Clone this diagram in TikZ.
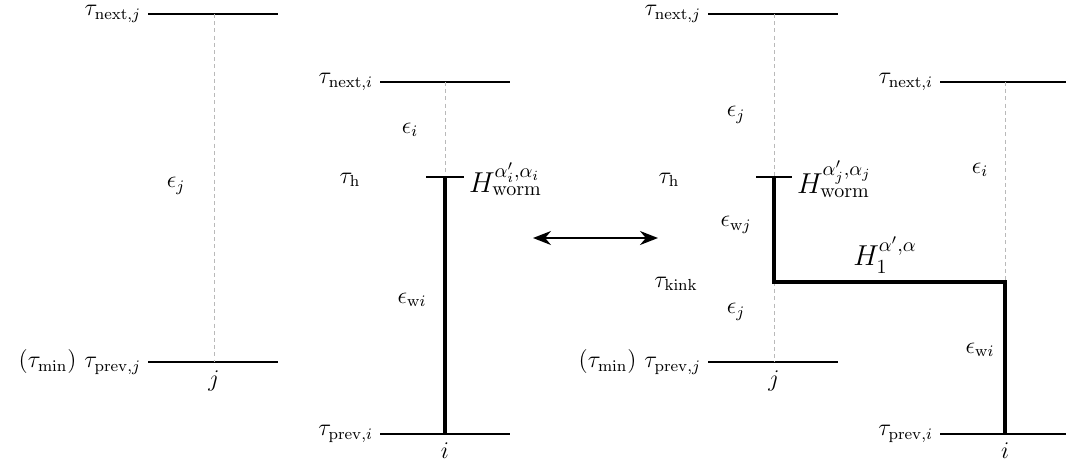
\documentclass[tikz,border=0pt]{standalone}
\usepackage{amsmath, amssymb}
\usetikzlibrary{positioning, arrows.meta, calc}

\begin{document}
\begin{tikzpicture}[x=0.5pt, y=-0.5pt, font=\large, >=Stealth,
    timeline/.style={line width=0.9pt},
    wormline/.style={line width=1.9pt},
    ghostline/.style={gray!55, line width=0.5pt, dash pattern=on 2pt off 1.6pt},
    timelabel/.style={inner ysep=0.5pt},
    hamlabel/.style={font=\Large, inner ysep=0.5pt}]
  \useasboundingbox (0,0) rectangle (1066,468);
  % Before: worm sits on site i
  \coordinate (jnA) at (148,14);  \coordinate (jnB) at (278,14);
  \coordinate (jpA) at (148,362); \coordinate (jpB) at (278,362);
  \coordinate (jn) at (214,14);   \coordinate (jp) at (214,362);
  \coordinate (inA) at (380,82);  \coordinate (inB) at (510,82);
  \coordinate (ipA) at (380,434); \coordinate (ipB) at (510,434);
  \coordinate (in) at (445,82);   \coordinate (ih) at (445,177);
  \coordinate (ip) at (445,434);
  \coordinate (hA) at (426,177);  \coordinate (hB) at (464,177);
  \draw[timeline] (jnA) -- (jnB);
  \draw[timeline] (jpA) -- (jpB);
  \draw[timeline] (inA) -- (inB);
  \draw[timeline] (ipA) -- (ipB);
  \draw[ghostline] (jn) -- (jp);
  \draw[ghostline] (in) -- (ih);
  \draw[timeline] (hA) -- (hB);
  \draw[wormline] (ih) -- (ip);
  \node[timelabel, left=0pt of jnA] (ltnj) {$\tau_{\mathrm{next},j}$};
  \node[timelabel, left=0pt of jpA] (ltpj) {$(\tau_{\min})\ \tau_{\mathrm{prev},j}$};
  \node[timelabel, left=0pt of inA] (ltni) {$\tau_{\mathrm{next},i}$};
  \node[timelabel, left=0pt of ipA] (ltpi) {$\tau_{\mathrm{prev},i}$};
  \node[below=1pt of jp] (lj) {$j$};
  \node[below=1pt of ip] (li) {$i$};
  \node[hamlabel, right=-1pt of hB, yshift=-1pt] (lhw) {$H_{\mathrm{worm}}^{\alpha_i',\alpha_i}$};
  \node (lth) at (350,180) {$\tau_{\mathrm{h}}$};
  \node (lej) at (176,186) {$\epsilon_j$};
  \node (lei) at (410,130) {$\epsilon_i$};
  \node (lewi) at (412,300) {$\epsilon_{\mathrm{w}i}$};
  % Swap
  \coordinate (swapL) at (533,238); \coordinate (swapR) at (658,238);
  \draw[<->, line width=0.8pt, arrows={Stealth[length=9pt, width=7pt]-Stealth[length=9pt, width=7pt]}] (swapL) -- (swapR);
  % After: worm head moved to site j with a kink
  \coordinate (JnA) at (708,14);  \coordinate (JnB) at (838,14);
  \coordinate (JpA) at (708,362); \coordinate (JpB) at (838,362);
  \coordinate (Jn) at (774,14);   \coordinate (Jh) at (774,177);
  \coordinate (Jk) at (774,282);  \coordinate (Jp) at (774,362);
  \coordinate (InA) at (940,82);  \coordinate (InB) at (1070,82);
  \coordinate (IpA) at (940,434); \coordinate (IpB) at (1070,434);
  \coordinate (In) at (1005,82);  \coordinate (Ik) at (1005,282);
  \coordinate (Ip) at (1005,434);
  \coordinate (HA) at (756,177);  \coordinate (HB) at (792,177);
  \draw[timeline] (JnA) -- (JnB);
  \draw[timeline] (JpA) -- (JpB);
  \draw[timeline] (InA) -- (InB);
  \draw[timeline] (IpA) -- (IpB);
  \draw[ghostline] (Jn) -- (Jh);
  \draw[ghostline] (Jk) -- (Jp);
  \draw[ghostline] (In) -- (Ik);
  \draw[timeline] (HA) -- (HB);
  \draw[wormline] (Jh) -- (Jk) -- (Ik) -- (Ip);
  \node[timelabel, left=0pt of JnA] (rtnj) {$\tau_{\mathrm{next},j}$};
  \node[timelabel, left=0pt of JpA] (rtpj) {$(\tau_{\min})\ \tau_{\mathrm{prev},j}$};
  \node[timelabel, left=0pt of InA] (rtni) {$\tau_{\mathrm{next},i}$};
  \node[timelabel, left=0pt of IpA] (rtpi) {$\tau_{\mathrm{prev},i}$};
  \node[below=1pt of Jp] (rj) {$j$};
  \node[below=1pt of Ip] (ri) {$i$};
  \node[hamlabel, right=-1pt of HB, yshift=-1pt] (rhw) {$H_{\mathrm{worm}}^{\alpha_j',\alpha_j}$};
  \node[hamlabel] (rh1) at (885,255) {$H_1^{\alpha',\alpha}$};
  \node (rth) at (669,180) {$\tau_{\mathrm{h}}$};
  \node (rtk) at (676,284) {$\tau_{\mathrm{kink}}$};
  \node (rej) at (736,115) {$\epsilon_j$};
  \node (rewj) at (736,225) {$\epsilon_{\mathrm{w}j}$};
  \node (rej2) at (736,312) {$\epsilon_j$};
  \node (rei) at (980,170) {$\epsilon_i$};
  \node (rewi) at (980,350) {$\epsilon_{\mathrm{w}i}$};
\end{tikzpicture}
\end{document}
